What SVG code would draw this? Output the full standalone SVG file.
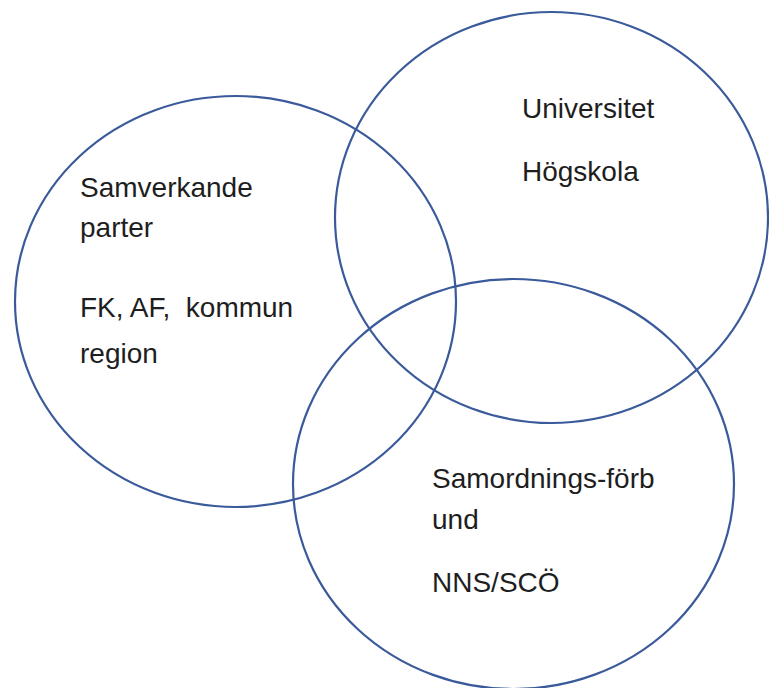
<svg xmlns="http://www.w3.org/2000/svg" width="769" height="688" viewBox="0 0 769 688">
<style>
.c{fill:none;stroke:#3A5A9B;stroke-width:2.2}
.t{font-family:"Liberation Sans",Arial,sans-serif;font-size:28px;fill:#1e1e1e}
</style>
<rect width="769" height="688" fill="#fff"/>
<g id="left">
<ellipse class="c" cx="235.5" cy="301.5" rx="220.5" ry="205.5"/>
<text class="t" x="80" y="197">Samverkande</text>
<text class="t" x="80" y="237">parter</text>
<text class="t" x="80" y="317" xml:space="preserve">FK, AF,  kommun</text>
<text class="t" x="80" y="363">region</text>
</g>
<g id="topright">
<ellipse class="c" cx="551.5" cy="217.5" rx="216.5" ry="205.5"/>
<text class="t" x="522" y="118">Universitet</text>
<text class="t" x="522" y="181">Högskola</text>
</g>
<g id="bottom">
<ellipse class="c" cx="513.5" cy="484" rx="220.5" ry="205"/>
<text class="t" x="432" y="488">Samordnings-förb</text>
<text class="t" x="432" y="529">und</text>
<text class="t" x="432" y="592">NNS/SCÖ</text>
</g>
<g id="connectors"></g>
</svg>
